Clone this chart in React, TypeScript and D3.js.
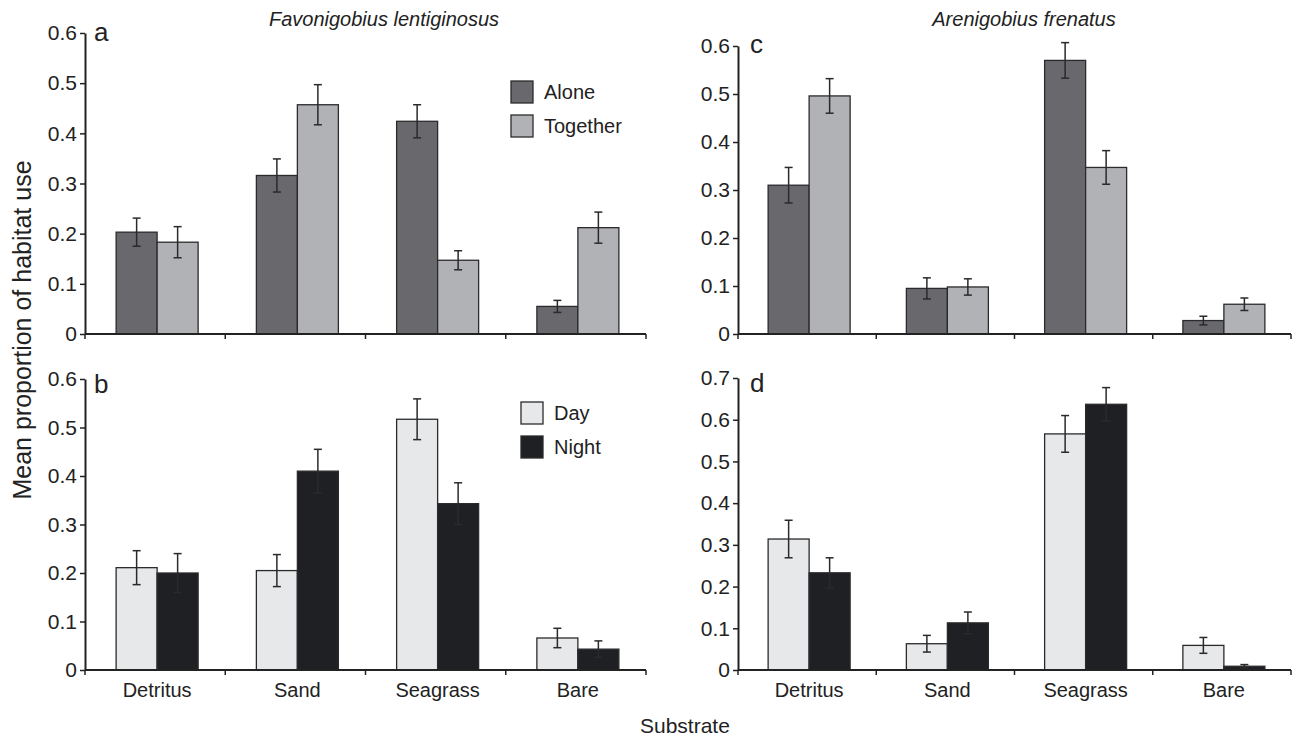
import * as d3 from "d3";
import React, { useEffect, useRef } from "react";

// substrate categories (x axis)
const categories = ["Detritus", "Sand", "Seagrass", "Bare"];

// Favonigobius lentiginosus - alone vs together (panel a)
const favAloneMean = [0.203, 0.316, 0.424, 0.055];
const favAloneErr = [0.028, 0.033, 0.033, 0.012];
const favTogetherMean = [0.183, 0.457, 0.147, 0.212];
const favTogetherErr = [0.031, 0.04, 0.019, 0.031];

// Favonigobius lentiginosus - day vs night (panel b)
const favDayMean = [0.211, 0.205, 0.517, 0.066];
const favDayErr = [0.035, 0.033, 0.042, 0.02];
const favNightMean = [0.2, 0.41, 0.343, 0.043];
const favNightErr = [0.04, 0.045, 0.043, 0.017];

// Arenigobius frenatus - alone vs together (panel c)
const areAloneMean = [0.31, 0.095, 0.57, 0.028];
const areAloneErr = [0.037, 0.022, 0.037, 0.009];
const areTogetherMean = [0.496, 0.098, 0.347, 0.062];
const areTogetherErr = [0.036, 0.017, 0.035, 0.013];

// Arenigobius frenatus - day vs night (panel d)
const areDayMean = [0.314, 0.063, 0.566, 0.059];
const areDayErr = [0.045, 0.02, 0.044, 0.019];
const areNightMean = [0.233, 0.113, 0.637, 0.009];
const areNightErr = [0.036, 0.026, 0.04, 0.004];

const ticks06 = [0, 0.1, 0.2, 0.3, 0.4, 0.5, 0.6];
const ticks07 = [0, 0.1, 0.2, 0.3, 0.4, 0.5, 0.6, 0.7];

const C_ALONE = "#69686d";
const C_TOGETHER = "#b1b2b5";
const C_DAY = "#e7e8ea";
const C_NIGHT = "#1f2023";
const INK = "#222";
const FONT = "'Liberation Sans', Arial, Helvetica, sans-serif";

const panels = [
    {
        letter: "a", left: 85, right: 646, top: 33, bottom: 334, ticks: ticks06,
        letterPos: [94, 41], xLabels: false,
        title: "Favonigobius lentiginosus", titleX: 384,
        legend: [511, 81],
        series: [
            { name: "Alone", mean: favAloneMean, err: favAloneErr, color: C_ALONE },
            { name: "Together", mean: favTogetherMean, err: favTogetherErr, color: C_TOGETHER },
        ],
    },
    {
        letter: "b", left: 85, right: 646, top: 379, bottom: 670, ticks: ticks06,
        letterPos: [94, 393], xLabels: true,
        legend: [521, 402],
        series: [
            { name: "Day", mean: favDayMean, err: favDayErr, color: C_DAY },
            { name: "Night", mean: favNightMean, err: favNightErr, color: C_NIGHT },
        ],
    },
    {
        letter: "c", left: 738, right: 1291, top: 46, bottom: 334, ticks: ticks06,
        letterPos: [750, 53], xLabels: false,
        title: "Arenigobius frenatus", titleX: 1024,
        series: [
            { name: "Alone", mean: areAloneMean, err: areAloneErr, color: C_ALONE },
            { name: "Together", mean: areTogetherMean, err: areTogetherErr, color: C_TOGETHER },
        ],
    },
    {
        letter: "d", left: 738, right: 1291, top: 378, bottom: 670, ticks: ticks07,
        letterPos: [750, 392], xLabels: true,
        series: [
            { name: "Day", mean: areDayMean, err: areDayErr, color: C_DAY },
            { name: "Night", mean: areNightMean, err: areNightErr, color: C_NIGHT },
        ],
    },
];

export default function App() {
    const ref = useRef<SVGSVGElement>(null);

    useEffect(() => {
        document.body.style.margin = "0";
        const svg = d3.select(ref.current);
        svg.selectAll("*").remove();
        const fmt = (d: number) => (d === 0 ? "0" : d3.format(".1f")(d));

        panels.forEach((p) => {
            const g = svg.append("g");
            const ymax = p.ticks[p.ticks.length - 1];
            const y = d3.scaleLinear().domain([0, ymax]).range([p.bottom, p.top]);
            const x = d3.scaleBand().domain(categories).range([p.left, p.right]);
            const groupW = 82;
            const xs = d3
                .scaleBand()
                .domain(p.series.map((s) => s.name))
                .range([(x.bandwidth() - groupW) / 2 + 2, (x.bandwidth() + groupW) / 2 + 2]);

            // bars
            p.series.forEach((s) => {
                g.selectAll(null)
                    .data(categories)
                    .enter()
                    .append("rect")
                    .attr("x", (c) => x(c)! + xs(s.name)!)
                    .attr("y", (c, i) => y(s.mean[i]))
                    .attr("width", xs.bandwidth())
                    .attr("height", (c, i) => y(0) - y(s.mean[i]))
                    .attr("fill", s.color)
                    .attr("stroke", "#2b2b2d")
                    .attr("stroke-width", 1.3);
            });

            // error bars
            p.series.forEach((s) => {
                categories.forEach((c, i) => {
                    const cx = x(c)! + xs(s.name)! + xs.bandwidth() / 2;
                    const lo = y(s.mean[i] - s.err[i]);
                    const hi = y(s.mean[i] + s.err[i]);
                    const eb = g.append("g").attr("stroke", "#2a2a2a").attr("stroke-width", 1.5);
                    eb.append("line").attr("x1", cx).attr("x2", cx).attr("y1", lo).attr("y2", hi);
                    eb.append("line").attr("x1", cx - 4).attr("x2", cx + 4).attr("y1", hi).attr("y2", hi);
                    eb.append("line").attr("x1", cx - 4).attr("x2", cx + 4).attr("y1", lo).attr("y2", lo);
                });
            });

            // y axis
            const yAxis = g
                .append("g")
                .attr("transform", `translate(${p.left},0)`)
                .call(d3.axisLeft(y).tickValues(p.ticks).tickFormat(fmt as any).tickSize(5).tickSizeOuter(0));
            yAxis.select(".domain").attr("stroke", INK).attr("stroke-width", 2);
            yAxis.selectAll(".tick line").attr("stroke", INK).attr("stroke-width", 1.5);
            yAxis
                .selectAll(".tick text")
                .attr("x", -8)
                .attr("fill", INK)
                .style("font-family", FONT)
                .style("font-size", "21px");

            // x axis line with ticks at band boundaries
            const xa = g.append("g").attr("stroke", INK);
            xa.append("line")
                .attr("x1", p.left).attr("x2", p.right)
                .attr("y1", y(0)).attr("y2", y(0))
                .attr("stroke-width", 2);
            const bounds = categories.map((c) => x(c)!).concat([p.right]);
            xa.selectAll(null)
                .data(bounds)
                .enter()
                .append("line")
                .attr("x1", (d) => d).attr("x2", (d) => d)
                .attr("y1", y(0)).attr("y2", y(0) + 5)
                .attr("stroke-width", 1.5);

            if (p.xLabels) {
                g.selectAll(null)
                    .data(categories)
                    .enter()
                    .append("text")
                    .attr("x", (c) => x(c)! + x.bandwidth() / 2 + 2)
                    .attr("y", y(0) + 27)
                    .attr("text-anchor", "middle")
                    .attr("fill", INK)
                    .style("font-family", FONT)
                    .style("font-size", "20px")
                    .text((c) => c);
            }

            // panel letter
            g.append("text")
                .attr("x", p.letterPos[0])
                .attr("y", p.letterPos[1])
                .attr("fill", INK)
                .style("font-family", FONT)
                .style("font-size", "26px")
                .text(p.letter);

            if (p.title) {
                g.append("text")
                    .attr("x", p.titleX)
                    .attr("y", 26)
                    .attr("text-anchor", "middle")
                    .attr("fill", INK)
                    .style("font-family", FONT)
                    .style("font-style", "italic")
                    .style("font-size", "20px")
                    .text(p.title);
            }

            // legend
            if (p.legend) {
                const lg = g.append("g").attr("transform", `translate(${p.legend[0]},${p.legend[1]})`);
                p.series.forEach((s, i) => {
                    const row = lg.append("g").attr("transform", `translate(0,${i * 34})`);
                    row.append("rect")
                        .attr("width", 22).attr("height", 22)
                        .attr("fill", s.color)
                        .attr("stroke", "#2b2b2d").attr("stroke-width", 1.3);
                    row.append("text")
                        .attr("x", 33).attr("y", 11).attr("dy", "0.35em")
                        .attr("fill", INK)
                        .style("font-family", FONT)
                        .style("font-size", "20px")
                        .text(s.name);
                });
            }
        });

        // shared axis titles
        svg.append("text")
            .attr("transform", `translate(31,330) rotate(-90)`)
            .attr("text-anchor", "middle")
            .attr("fill", INK)
            .style("font-family", FONT)
            .style("font-size", "25px")
            .text("Mean proportion of habitat use");

        svg.append("text")
            .attr("x", 640)
            .attr("y", 733)
            .attr("fill", INK)
            .style("font-family", FONT)
            .style("font-size", "21px")
            .text("Substrate");
    }, []);

    return <svg ref={ref} width={1293} height={740} style={{ display: "block", background: "#fff" }} />;
}
